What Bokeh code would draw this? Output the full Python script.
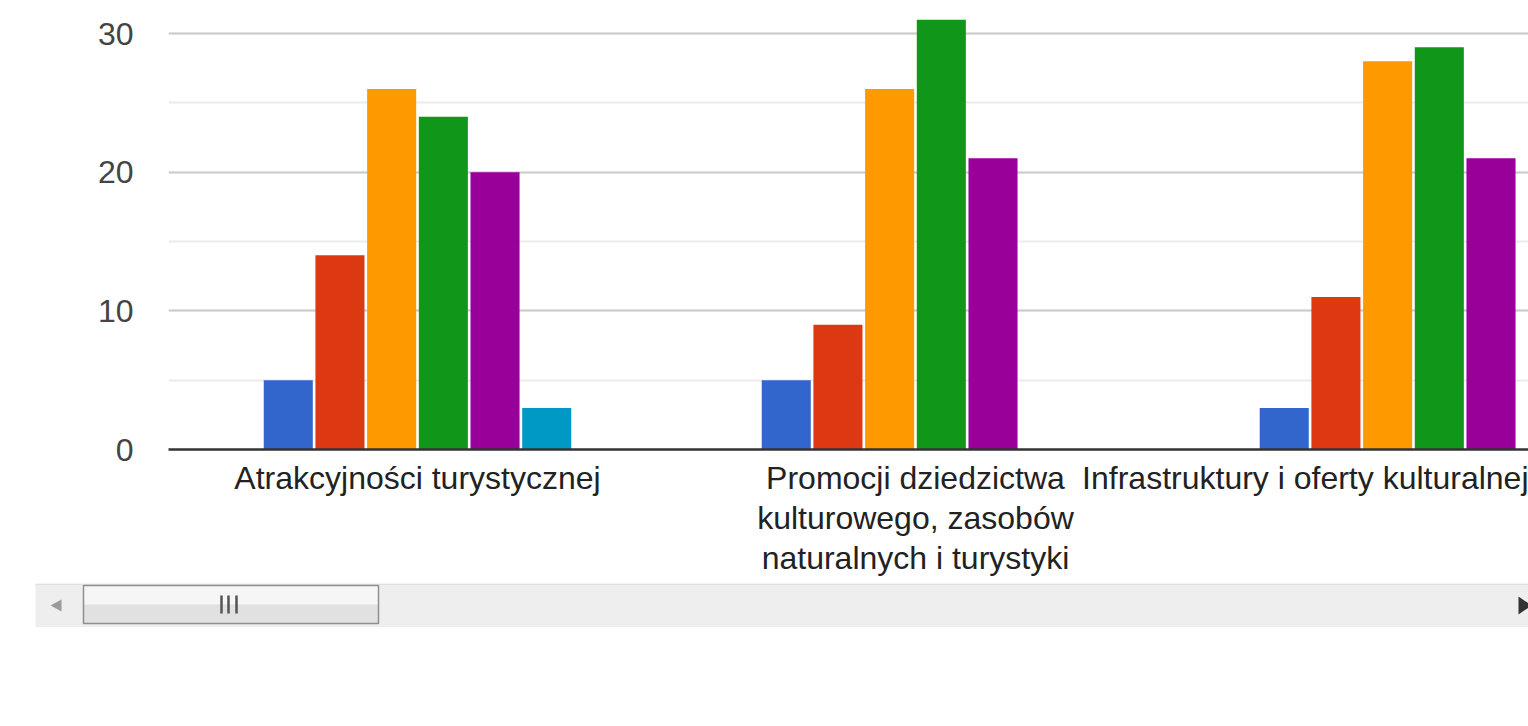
from bokeh.plotting import figure
from bokeh.models import ColumnDataSource, Range1d, FixedTicker, SingleIntervalTicker
from bokeh.transform import dodge
from bokeh.embed import file_html
from bokeh.resources import INLINE

# ---- data ----
categories = [
    "Atrakcyjności turystycznej",
    "Promocji dziedzictwa\nkulturowego, zasobów\nnaturalnych i turystyki",
    "Infrastruktury i oferty kulturalnej",
]
series_names = ["1", "2", "3", "4", "5", "6"]
s1 = [5, 5, 3]
s2 = [14, 9, 11]
s3 = [26, 26, 28]
s4 = [24, 31, 29]
s5 = [20, 21, 21]
s6 = [3, 0, 0]
colors = ["#3366cc", "#dc3912", "#ff9900", "#109618", "#990099", "#0099c6"]

FONT = "Liberation Sans"

src = ColumnDataSource(dict(x=list(range(len(categories))),
                            s1=s1, s2=s2, s3=s3, s4=s4, s5=s5, s6=s6))

p = figure(frame_width=1360, frame_height=449,
           x_range=Range1d(-0.5, 2.231), y_range=Range1d(0, 32.38),
           output_backend="svg", toolbar_location=None,
           min_border_left=168, min_border_right=0, min_border_top=0,
           min_border_bottom=134)
p.outline_line_color = None
p.background_fill_color = "white"

slot = 0.1038
bw = 0.0985
for i, col in enumerate(["s1", "s2", "s3", "s4", "s5", "s6"]):
    p.vbar(x=dodge("x", (i - 2.5) * slot), top=col, width=bw, bottom=0,
           source=src, fill_color=colors[i], line_color=None,
           legend_label=series_names[i])
p.legend.visible = False

# y axis / grid
p.yaxis.ticker = SingleIntervalTicker(interval=10, num_minor_ticks=2)
p.yaxis.axis_line_color = None
p.yaxis.major_tick_line_color = None
p.yaxis.minor_tick_line_color = None
p.yaxis.major_label_standoff = 29
p.yaxis.major_label_text_font = FONT
p.yaxis.major_label_text_font_size = "32px"
p.yaxis.major_label_text_color = "#444444"
p.ygrid.ticker = SingleIntervalTicker(interval=10, num_minor_ticks=2)
p.ygrid.grid_line_color = "#cccccc"
p.ygrid.grid_line_width = 2
p.ygrid.minor_grid_line_color = "#ebebeb"
p.ygrid.minor_grid_line_width = 2
p.xgrid.grid_line_color = None

# x axis
p.xaxis.ticker = FixedTicker(ticks=list(range(len(categories))))
p.xaxis.major_label_overrides = {i: c for i, c in enumerate(categories)}
p.xaxis.axis_line_color = "#333333"
p.xaxis.axis_line_width = 2.5
p.xaxis.major_tick_line_color = None
p.xaxis.minor_tick_line_color = None
p.xaxis.major_label_standoff = 4
p.xaxis.major_label_text_font = FONT
p.xaxis.major_label_text_font_size = "32px"
p.xaxis.major_label_text_color = "#222222"
p.xaxis.major_label_text_line_height = 1.12

# ---- decorative scrollbar (UI chrome from the screenshot) ----
sb = figure(width=1528, height=44, x_range=Range1d(0, 1528), y_range=Range1d(44, 0),
            output_backend="svg", toolbar_location=None,
            x_axis_location=None, y_axis_location=None,
            min_border=0, min_border_left=0, min_border_right=0,
            min_border_top=0, min_border_bottom=0)
sb.grid.visible = False
sb.outline_line_color = None
sb.quad(left=35, right=1528, top=0, bottom=44, fill_color="#eeeeee", line_color=None)
sb.quad(left=35, right=1528, top=0, bottom=1.5, fill_color="#e0e0e0", line_color=None)
sb.quad(left=83, right=378, top=2, bottom=21, fill_color="#f6f6f6", line_color=None)
sb.quad(left=83, right=378, top=21, bottom=40, fill_color="#e1e1e1", line_color=None)
sb.quad(left=83, right=378, top=2, bottom=40, fill_color=None, line_color="#8f8f8f", line_width=1.5)
sb.segment(x0=[221, 228, 236], y0=[12, 12, 12], x1=[221, 228, 236], y1=[30, 30, 30],
           line_color="#555555", line_width=2.5)
sb.patch(x=[50, 61, 61], y=[22, 16, 28], fill_color="#9a9a9a", line_color=None)
sb.patch(x=[1531, 1518, 1518], y=[22, 13, 31], fill_color="#333333", line_color=None)

open("out.html", "w").write(file_html([p, sb], INLINE))
